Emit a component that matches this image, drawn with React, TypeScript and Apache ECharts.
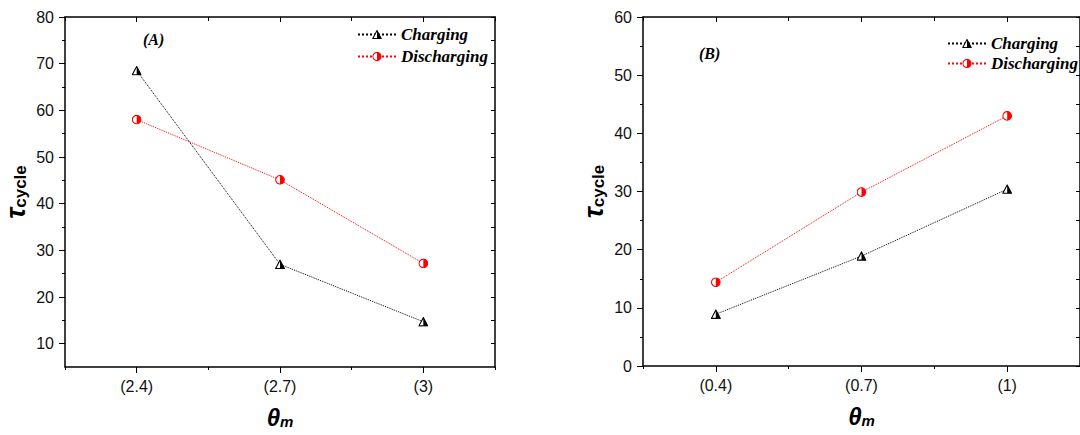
import React, { useEffect, useRef } from "react";
import * as echarts from "echarts";

const categoriesA = ["(2.4)", "(2.7)", "(3)"];
const chargingA = [68.5, 27.0, 14.7];
const dischargingA = [58.0, 45.1, 27.2];

const categoriesB = ["(0.4)", "(0.7)", "(1)"];
const chargingB = [8.9, 18.9, 30.4];
const dischargingB = [14.4, 29.9, 43.0];

const yMajorA = [10, 20, 30, 40, 50, 60, 70, 80];
const yMinorA = [15, 25, 35, 45, 55, 65, 75];
const yMajorB = [0, 10, 20, 30, 40, 50, 60];
const yMinorB = [5, 15, 25, 35, 45, 55];

const seriesNames = ["Charging", "Discharging"];
const panelLabels = ["(A)", "(B)"];

const triSvg =
  '<svg xmlns="http://www.w3.org/2000/svg" width="20" height="20" viewBox="0 0 10 10">' +
  '<polygon points="5,0.9 9.4,9.1 0.6,9.1" fill="#fff" stroke="#000" stroke-width="1.1"/>' +
  '<polygon points="5,0.9 9.4,9.1 5,9.1" fill="#000"/></svg>';
const circSvg =
  '<svg xmlns="http://www.w3.org/2000/svg" width="20" height="20" viewBox="0 0 10 10">' +
  '<circle cx="5" cy="5" r="4.3" fill="#fff" stroke="#ff0000" stroke-width="1.1"/>' +
  '<path d="M5,0.7 A4.3,4.3 0 0 1 5,9.3 Z" fill="#ff0000"/></svg>';
const triSymbol = "image://data:image/svg+xml;charset=utf-8," + encodeURIComponent(triSvg);
const circSymbol = "image://data:image/svg+xml;charset=utf-8," + encodeURIComponent(circSvg);

const LBL = "'Liberation Sans', Arial, sans-serif";
const SERIF = "'Liberation Serif', 'Times New Roman', serif";

function xAxes(gridIndex: number, cats: string[]) {
  const line = { show: true, onZero: false, lineStyle: { color: "#000", width: 1.5 } };
  return [
    {
      type: "category", gridIndex, position: "bottom", data: cats, boundaryGap: true,
      axisLine: line,
      axisTick: { show: true, length: 3, alignWithLabel: false, lineStyle: { color: "#000", width: 1 } },
      axisLabel: { show: true, color: "#111", fontSize: 16, fontFamily: LBL, margin: 11 },
      name: "{t|θ}{s|m}", nameLocation: "middle", nameGap: 36,
      nameTextStyle: {
        rich: {
          t: { fontSize: 24, fontWeight: "bold", fontStyle: "italic", fontFamily: LBL, color: "#000", verticalAlign: "bottom", lineHeight: 26 },
          s: { fontSize: 15, fontWeight: "bold", fontStyle: "italic", fontFamily: LBL, color: "#000", verticalAlign: "bottom", lineHeight: 20 },
        },
      },
    },
    {
      type: "category", gridIndex, position: "bottom", data: cats, boundaryGap: true,
      axisLine: { show: false, onZero: false },
      axisTick: { show: true, length: 6, alignWithLabel: true, lineStyle: { color: "#000", width: 1 } },
      axisLabel: { show: false },
    },
    {
      type: "category", gridIndex, position: "top", data: cats, boundaryGap: true,
      axisLine: line,
      axisTick: { show: true, inside: true, length: 5, alignWithLabel: true, lineStyle: { color: "#000", width: 1 } },
      axisLabel: { show: false },
    },
    {
      type: "category", gridIndex, position: "top", data: cats, boundaryGap: true,
      axisLine: { show: false, onZero: false },
      axisTick: { show: true, inside: true, length: 4, alignWithLabel: false, lineStyle: { color: "#000", width: 1 } },
      axisLabel: { show: false },
    },
  ];
}

function yAxes(gridIndex: number, min: number, max: number, major: number[], minor: number[]) {
  const line = { show: true, onZero: false, lineStyle: { color: "#000", width: 1.5 } };
  return [
    {
      type: "value", gridIndex, position: "left", min, max, splitLine: { show: false },
      axisLine: line,
      axisTick: { show: true, length: 6, customValues: major, lineStyle: { color: "#000", width: 1 } },
      axisLabel: { show: true, customValues: major, color: "#111", fontSize: 16, fontFamily: LBL, margin: 11 },
      name: "{t|τ}{s|cycle}", nameLocation: "middle", nameGap: 36, nameRotate: 90,
      nameTextStyle: {
        rich: {
          t: { fontSize: 27, fontWeight: "bold", fontStyle: "italic", fontFamily: LBL, color: "#000", verticalAlign: "bottom", lineHeight: 28 },
          s: { fontSize: 17, fontWeight: "bold", fontFamily: LBL, color: "#000", verticalAlign: "bottom", lineHeight: 22 },
        },
      },
    },
    {
      type: "value", gridIndex, position: "left", min, max, splitLine: { show: false },
      axisLine: { show: false, onZero: false },
      axisTick: { show: true, length: 3, customValues: minor, lineStyle: { color: "#000", width: 1 } },
      axisLabel: { show: false },
    },
    {
      type: "value", gridIndex, position: "right", min, max, splitLine: { show: false },
      axisLine: line,
      axisTick: { show: true, inside: true, length: 4, customValues: [...major, ...minor], lineStyle: { color: "#000", width: 1 } },
      axisLabel: { show: false },
    },
  ];
}

function lineSeries(name: string, data: number[], xi: number, yi: number, color: string, symbol: string) {
  return {
    type: "line", name, data, xAxisIndex: xi, yAxisIndex: yi,
    symbol, symbolSize: 10,
    lineStyle: { color, width: 1, type: "dotted" },
    itemStyle: { color },
    z: 5,
  };
}

export default function App() {
  const ref = useRef<HTMLDivElement>(null);
  useEffect(() => {
    if (!ref.current) return;
    const chart = echarts.init(ref.current, undefined, { renderer: "svg" });
    const legendText = { fontSize: 17, fontWeight: "bold", fontStyle: "italic", fontFamily: SERIF, color: "#000" };
    chart.setOption({
      animation: false,
      backgroundColor: "#fff",
      grid: [
        { left: 65, top: 17, width: 430, height: 350 },
        { left: 643, top: 17, width: 441, height: 349 },
      ],
      xAxis: [...xAxes(0, categoriesA), ...xAxes(1, categoriesB)],
      yAxis: [...yAxes(0, 5, 80, yMajorA, yMinorA), ...yAxes(1, 0, 60, yMajorB, yMinorB)],
      legend: [
        {
          left: 357, top: 26, padding: 0, orient: "vertical", itemWidth: 38, itemHeight: 12, itemGap: 5,
          data: seriesNames, textStyle: legendText, selectedMode: false,
        },
        {
          left: 947, top: 35, padding: 0, orient: "vertical", itemWidth: 38, itemHeight: 12, itemGap: 3,
          data: seriesNames, textStyle: legendText, selectedMode: false,
        },
      ],
      graphic: [
        { type: "text", left: 143, top: 31, style: { text: panelLabels[0], font: "italic bold 16px 'Liberation Serif', serif", fill: "#000" } },
        { type: "text", left: 699, top: 45, style: { text: panelLabels[1], font: "italic bold 16px 'Liberation Serif', serif", fill: "#000" } },
      ],
      series: [
        lineSeries(seriesNames[0], chargingA, 0, 0, "#000", triSymbol),
        lineSeries(seriesNames[1], dischargingA, 0, 0, "#ff0000", circSymbol),
        lineSeries(seriesNames[0], chargingB, 4, 3, "#000", triSymbol),
        lineSeries(seriesNames[1], dischargingB, 4, 3, "#ff0000", circSymbol),
      ],
    });
    return () => chart.dispose();
  }, []);
  return <div ref={ref} style={{ position: "absolute", left: 0, top: 0, width: 1080, height: 435 }} />;
}
